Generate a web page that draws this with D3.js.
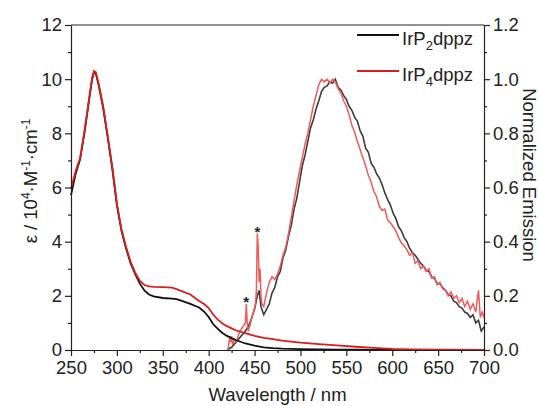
<!DOCTYPE html>
<html><head><meta charset="utf-8">
<script src="https://cdn.jsdelivr.net/npm/d3@7"></script>
<style>body{margin:0;background:#fff}svg{display:block}text{font-family:"Liberation Sans",Arial,sans-serif;fill:#222}</style>
</head><body>
<svg id="c" width="539" height="406"></svg>
<script>
// ---- data ----
const seriesNames = ["IrP2dppz", "IrP4dppz"];
const xTicks = [250,300,350,400,450,500,550,600,650,700];
const yLeftTicks = [0,2,4,6,8,10,12];
const yRightTicks = [0.0,0.2,0.4,0.6,0.8,1.0,1.2];

const absWl = [250,255,260,265,270,273,275,277,280,285,290,295,300,305,310,315,320,325,330,335,340,350,360,365,370,380,390,395,400,405,410,415,420,425,430,440,450,460,470,480,500,520,540,560,580,600,620,650,700];
const absBlack = [5.72,6.5,7.05,8.1,9.3,10.0,10.25,10.22,9.8,8.95,7.85,6.7,5.35,4.4,3.75,3.2,2.8,2.45,2.2,2.05,1.98,1.92,1.9,1.88,1.82,1.7,1.56,1.42,1.22,0.95,0.78,0.63,0.52,0.44,0.36,0.24,0.16,0.1,0.07,0.05,0.03,0.02,0.015,0.01,0.005,0,0,0,0];
const absRed   = [5.95,6.6,7.1,8.15,9.35,10.05,10.3,10.25,9.85,9.0,7.9,6.75,5.4,4.45,3.8,3.25,2.85,2.55,2.4,2.35,2.33,2.32,2.3,2.25,2.18,2.05,1.8,1.7,1.55,1.3,1.12,0.98,0.88,0.8,0.72,0.62,0.52,0.45,0.4,0.35,0.27,0.22,0.17,0.12,0.08,0.04,0.02,0.01,0.0];

const emBlackWl = [420,425,430,435,440,445,450,453,455,457,460,463,466,469,472,475,478,481,484,487,490,493,496,499,502,505,508,511,514,517,520,523,526,529,532,535,538,541,544,547,550,553,556,559,562,565,568,571,574,577,580,583,586,589,592,595,598,601,604,607,610,613,616,619,622,625,628,631,634,637,640,643,646,649,652,655,658,661,664,667,670,673,676,679,682,685,688,691,694,697,700];
const emBlack = [0.0,0.01,0.03,0.05,0.07,0.1,0.15,0.2,0.22,0.16,0.13,0.15,0.17,0.21,0.23,0.27,0.29,0.34,0.37,0.42,0.46,0.52,0.56,0.62,0.68,0.72,0.77,0.82,0.85,0.89,0.92,0.955,0.97,0.975,0.99,0.985,1.0,0.97,0.96,0.94,0.925,0.9,0.885,0.86,0.845,0.81,0.79,0.745,0.73,0.69,0.675,0.65,0.635,0.61,0.58,0.555,0.535,0.505,0.485,0.455,0.44,0.415,0.40,0.375,0.36,0.35,0.335,0.32,0.31,0.295,0.29,0.27,0.265,0.245,0.245,0.23,0.22,0.205,0.2,0.18,0.175,0.16,0.155,0.14,0.135,0.12,0.13,0.1,0.11,0.07,0.085];

const emRedWl = [421,423,424,425,426,428,430,432,434,436,438,440,441,442,443,445,447,449,451,452,453,454,455,456,457,458,460,463,466,469,472,475,478,481,484,487,490,493,496,499,502,505,508,511,514,517,520,523,526,529,532,535,538,541,544,547,550,553,556,559,562,565,568,571,574,577,580,583,586,589,592,595,598,601,604,607,610,613,616,619,622,625,628,631,634,637,640,643,646,649,652,655,658,661,664,667,670,673,676,679,682,685,688,691,694,696,698,700];
const emRed = [0.0,0.05,0.03,0.05,0.02,0.04,0.03,0.05,0.07,0.08,0.09,0.1,0.17,0.1,0.07,0.09,0.12,0.14,0.17,0.22,0.43,0.38,0.25,0.3,0.2,0.17,0.16,0.21,0.25,0.27,0.26,0.28,0.31,0.35,0.38,0.43,0.49,0.55,0.61,0.66,0.71,0.76,0.8,0.85,0.9,0.94,0.98,1.0,0.99,1.0,0.985,1.0,0.99,0.965,0.95,0.92,0.9,0.87,0.83,0.805,0.77,0.74,0.71,0.68,0.645,0.62,0.585,0.565,0.53,0.515,0.52,0.48,0.47,0.455,0.44,0.415,0.395,0.385,0.37,0.35,0.36,0.32,0.33,0.3,0.31,0.29,0.3,0.265,0.27,0.24,0.25,0.225,0.22,0.2,0.215,0.19,0.2,0.175,0.19,0.16,0.18,0.15,0.17,0.14,0.22,0.12,0.14,0.12];

const starWl = [441, 453];
const starVal = [0.17, 0.43];

// ---- layout ----
const svg = d3.select("#c");
const L = 71, R = 484, T = 25, B = 350;
const x = d3.scaleLinear().domain([250,700]).range([L,R]);
const yL = d3.scaleLinear().domain([0,12]).range([B,T]);
const yR = d3.scaleLinear().domain([0,1.2]).range([B,T]);
const FS = "18.5px";

const lineL = (wl, v) => d3.line().x((d,i)=>x(wl[i])).y(d=>yL(d))(v);
const lineR = (wl, v) => d3.line().x((d,i)=>x(wl[i])).y(d=>yR(d))(v);

const g = svg.append("g");
g.append("path").attr("d", lineR(emBlackWl, emBlack)).attr("fill","none").attr("stroke","#3c3c3c").attr("stroke-width",1.6);
g.append("path").attr("d", lineR(emRedWl, emRed)).attr("fill","none").attr("stroke","#f05a5a").attr("stroke-width",1.5);
g.append("path").attr("d", lineL(absWl, absBlack)).attr("fill","none").attr("stroke","#111").attr("stroke-width",1.8);
g.append("path").attr("d", lineL(absWl, absRed)).attr("fill","none").attr("stroke","#dc1c1c").attr("stroke-width",1.8);

// asterisks
starWl.forEach((w,i)=>{
  g.append("text").attr("x", x(w)).attr("y", yR(starVal[i]) + 3).attr("text-anchor","middle")
   .style("font-size","15px").style("font-weight","bold").attr("fill","#333").text("*");
});

// axes
function styleAxis(sel){ sel.selectAll("path,line").attr("stroke","#222").attr("stroke-width",1.2); sel.selectAll("text").style("font-size",FS).attr("fill","#222").style("font-family",'"Liberation Sans",Arial,sans-serif'); }
const minorX = [275,325,375,425,475,525,575,625,675];
const minorYL = [1,3,5,7,9,11];
const minorYR = [0.1,0.3,0.5,0.7,0.9,1.1];

const ax = svg.append("g").attr("transform",`translate(0,${B})`)
  .call(d3.axisBottom(x).tickValues(xTicks).tickSize(6).tickSizeOuter(0).tickPadding(5).tickFormat(d3.format("d")));
styleAxis(ax);
svg.append("g").attr("transform",`translate(0,${B})`).call(d3.axisBottom(x).tickValues(minorX).tickSize(3).tickFormat("")).call(s=>{s.select(".domain").remove(); s.selectAll("line").attr("stroke","#222").attr("stroke-width",1.2);});

const ayl = svg.append("g").attr("transform",`translate(${L},0)`)
  .call(d3.axisLeft(yL).tickValues(yLeftTicks).tickSize(6).tickSizeOuter(0).tickPadding(3).tickFormat(d3.format("d")));
styleAxis(ayl);
svg.append("g").attr("transform",`translate(${L},0)`).call(d3.axisLeft(yL).tickValues(minorYL).tickSize(3).tickFormat("")).call(s=>{s.select(".domain").remove(); s.selectAll("line").attr("stroke","#222").attr("stroke-width",1.2);});

const ayr = svg.append("g").attr("transform",`translate(${R},0)`)
  .call(d3.axisRight(yR).tickValues(yRightTicks).tickSize(6).tickSizeOuter(0).tickPadding(3).tickFormat(d3.format(".1f")));
styleAxis(ayr);
svg.append("g").attr("transform",`translate(${R},0)`).call(d3.axisRight(yR).tickValues(minorYR).tickSize(3).tickFormat("")).call(s=>{s.select(".domain").remove(); s.selectAll("line").attr("stroke","#222").attr("stroke-width",1.2);});

svg.append("line").attr("x1",L).attr("x2",R).attr("y1",T).attr("y2",T).attr("stroke","#222").attr("stroke-width",1.2);

// axis titles
svg.append("text").attr("x",(L+R)/2).attr("y",401).attr("text-anchor","middle").style("font-size",FS).text("Wavelength / nm");

const yl = svg.append("text").attr("transform","translate(37,181) rotate(-90)").attr("text-anchor","middle").style("font-size",FS);
yl.append("tspan").text("ε / 10");
yl.append("tspan").attr("dy",-7).style("font-size","12px").text("4");
yl.append("tspan").attr("dy",7).text("·M");
yl.append("tspan").attr("dy",-7).style("font-size","12px").text("-1");
yl.append("tspan").attr("dy",7).text("·cm");
yl.append("tspan").attr("dy",-7).style("font-size","12px").text("-1");

svg.append("text").attr("transform","translate(523,175) rotate(90)").attr("text-anchor","middle").style("font-size",FS).text("Normalized Emission");

// legend
const legColors = ["#111","#dc1c1c"];
const legSub = ["2","4"];
const legY = [35, 71];
seriesNames.forEach((n,i)=>{
  svg.append("line").attr("x1",357).attr("x2",399).attr("y1",legY[i]).attr("y2",legY[i]).attr("stroke",legColors[i]).attr("stroke-width",1.8);
  const t = svg.append("text").attr("x",402).attr("y",legY[i]+10).style("font-size",FS);
  t.append("tspan").text("IrP");
  t.append("tspan").attr("dy",5).style("font-size","13px").text(legSub[i]);
  t.append("tspan").attr("dy",-5).text("dppz");
});
</script>
</body></html>
